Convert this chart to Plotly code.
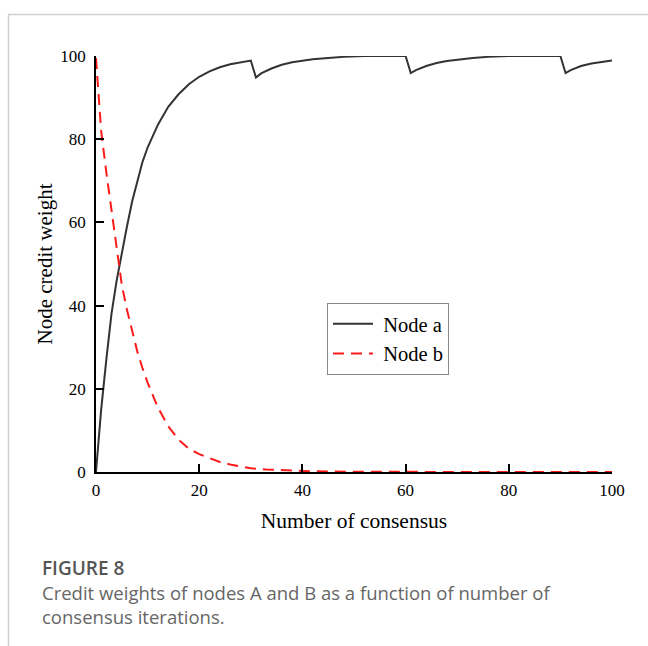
import plotly.graph_objects as go

# Node a credit weight over consensus rounds
a_x = [0, 1, 2, 3, 4, 5, 6, 7, 8, 9, 10, 12, 14, 16, 18, 20, 22, 24, 26, 28, 30,
       31, 32, 34, 36, 38, 40, 42, 45, 48, 52, 60,
       61, 62, 64, 66, 68, 70, 73, 76, 80, 90,
       91, 92, 94, 96, 98, 100]
a_y = [0, 15, 27, 38, 46, 53, 59, 65, 70, 74.5, 78, 83.5, 87.8, 90.8, 93.2, 95, 96.3, 97.3, 98, 98.5, 98.9,
       94.8, 95.8, 97, 97.9, 98.5, 98.9, 99.2, 99.5, 99.8, 100, 100,
       95.9, 96.6, 97.6, 98.3, 98.8, 99.1, 99.5, 99.8, 100, 100,
       95.9, 96.6, 97.6, 98.2, 98.6, 98.9]

# Node b credit weight over consensus rounds
b_x = [0, 1, 2, 3, 4, 5, 6, 7, 8, 9, 10, 12, 14, 16, 18, 20, 22, 24, 26, 28, 30,
       33, 36, 40, 45, 50, 60, 70, 80, 90, 100]
b_y = [99.5, 82, 72, 63, 54, 45, 39, 34, 29, 25, 21.5, 15.5, 11, 7.8, 5.6, 4.3, 3.3, 2.4, 1.8, 1.3, 0.9,
       0.6, 0.4, 0.25, 0.1, 0.05, 0, 0, 0, 0, 0]

x_ticks = [0, 20, 40, 60, 80, 100]
y_ticks = [0, 20, 40, 60, 80, 100]

caption_title = "FIGURE 8"
caption_lines = ["Credit weights of nodes A and B as a function of number of",
                 "consensus iterations."]

serif = "Liberation Serif, Times New Roman, serif"
sans = "Open Sans, Noto Sans, sans-serif"

fig = go.Figure()
fig.add_trace(go.Scatter(x=a_x, y=a_y, mode="lines", name="&nbsp;Node a",
                         line=dict(color="#333333", width=2)))
fig.add_trace(go.Scatter(x=b_x, y=b_y, mode="lines", name="&nbsp;Node b",
                         line=dict(color="#ff1a1a", width=2, dash="11px,7px")))

axis_common = dict(showgrid=False, zeroline=False, showline=True,
                   linecolor="black", linewidth=1.5, ticks="inside",
                   ticklen=8, tickwidth=1.5, tickcolor="black",
                   tickfont=dict(family=serif, size=17, color="black"),
                   mirror=False)

fig.update_xaxes(range=[0, 100], tickvals=x_ticks, ticklabelstandoff=2,
                 title=dict(text="Number of consensus",
                            font=dict(family=serif, size=21.5, color="black"),
                            standoff=14),
                 **axis_common)
fig.update_yaxes(range=[0, 100], tickvals=y_ticks, ticklabelstandoff=5,
                 title=dict(text="Node credit weight",
                            font=dict(family=serif, size=21, color="black"),
                            standoff=2),
                 **axis_common)

W, H = 648, 646
L, R, T, B = 96, 36, 56, 174
pw, ph = W - L - R, H - T - B


def px_x(p):
    return (p - L) / pw


def px_y(p):
    return (H - B - p) / ph


# page frame: top rule and left rule
fig.add_shape(type="line", xref="paper", yref="paper",
              x0=px_x(8), x1=px_x(W + 5), y0=px_y(14.5), y1=px_y(14.5),
              line=dict(color="#d0d0d0", width=1.5))
fig.add_shape(type="line", xref="paper", yref="paper",
              x0=px_x(8.5), x1=px_x(8.5), y0=px_y(14.5), y1=px_y(H + 5),
              line=dict(color="#d0d0d0", width=1.5))

fig.add_annotation(xref="paper", yref="paper", x=px_x(40), y=px_y(568),
                   xanchor="left", yanchor="middle", showarrow=False,
                   text=caption_title,
                   font=dict(family=sans, size=19, color="#555555", weight=600))
fig.add_annotation(xref="paper", yref="paper", x=px_x(40), y=px_y(604.5),
                   xanchor="left", yanchor="middle", align="left", showarrow=False,
                   text="<br>".join(caption_lines),
                   font=dict(family=sans, size=18.5, color="#666666"))

fig.update_layout(
    width=W, height=H,
    margin=dict(l=L, r=R, t=T, b=B),
    paper_bgcolor="white", plot_bgcolor="white",
    legend=dict(x=px_x(327), y=px_y(303), xanchor="left", yanchor="top",
                bgcolor="white", bordercolor="#888888", borderwidth=1,
                font=dict(family=serif, size=20.5, color="black"),
                tracegroupgap=0, itemwidth=40),
    showlegend=True,
)

fig.write_html("out.html")
